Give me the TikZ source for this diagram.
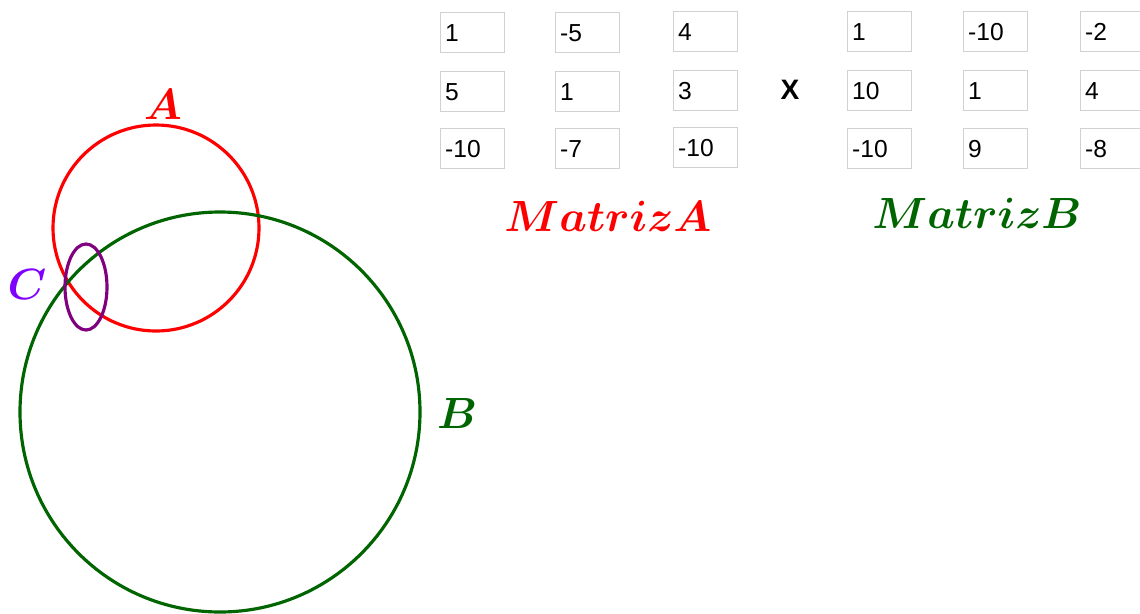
\documentclass[tikz,border=0pt]{standalone}
\usepackage{amsmath, amssymb}
\usepackage{bm}
\usepackage{fontspec}
\setsansfont{Liberation Sans}
\usepackage{xcolor}
\usetikzlibrary{positioning, calc}

\definecolor{rojoA}{RGB}{255,0,0}
\definecolor{verdeB}{RGB}{0,100,0}
\definecolor{moradoC}{RGB}{128,0,128}
\definecolor{violetaC}{RGB}{127,0,255}

\tikzset{
    celda/.style={draw=black!18, line width=0.8pt, anchor=north west, minimum height=0.8cm,
        text width=1.1cm, inner xsep=0.09cm, align=left, font=\sffamily\fontsize{14}{14}\selectfont},
    etiqueta/.style={font=\fontsize{23}{23}\selectfont},
}

\begin{document}
\begin{tikzpicture}[x=0.02cm, y=-0.02cm]
    \useasboundingbox (0,0) rectangle (1140,613);

    % circulos
    \draw[rojoA, line width=1.8pt] (156,228) circle[radius=103];
    \draw[verdeB, line width=1.8pt] (220,412) circle[radius=200];
    \draw[moradoC, line width=1.8pt] (86,287) ellipse[x radius=21, y radius=43];

    \node[etiqueta, text=rojoA] (labA) at (163,104) {$\bm{A}$};
    \node[etiqueta, text=verdeB] (labB) at (457,413) {$\bm{B}$};
    \node[etiqueta, text=violetaC] (labC) at (27,284) {$\bm{C}$};

    % matriz A
    \node[celda] (a11) at (440,12) {1};
    \node[celda] (a12) at (555,12) {-5};
    \node[celda] (a13) at (673,11) {4};
    \node[celda] (a21) at (440,71) {5};
    \node[celda] (a22) at (555,71) {1};
    \node[celda] (a23) at (673,70) {3};
    \node[celda] (a31) at (440,128) {-10};
    \node[celda] (a32) at (555,128) {-7};
    \node[celda] (a33) at (673,127) {-10};

    % matriz B
    \node[celda] (b11) at (847,11) {1};
    \node[celda] (b12) at (963,11) {-10};
    \node[celda] (b13) at (1080,11) {-2};
    \node[celda] (b21) at (847,70) {10};
    \node[celda] (b22) at (963,70) {1};
    \node[celda] (b23) at (1080,70) {4};
    \node[celda] (b31) at (847,128) {-10};
    \node[celda] (b32) at (963,128) {9};
    \node[celda] (b33) at (1080,128) {-8};

    \node[font=\sffamily\bfseries\fontsize{16}{16}\selectfont] (por) at (790,90) {X};

    \node[etiqueta, text=rojoA] (nomA) at (608,216) {$\bm{MatrizA}$};
    \node[etiqueta, text=verdeB] (nomB) at (977,213) {$\bm{MatrizB}$};
\end{tikzpicture}
\end{document}
